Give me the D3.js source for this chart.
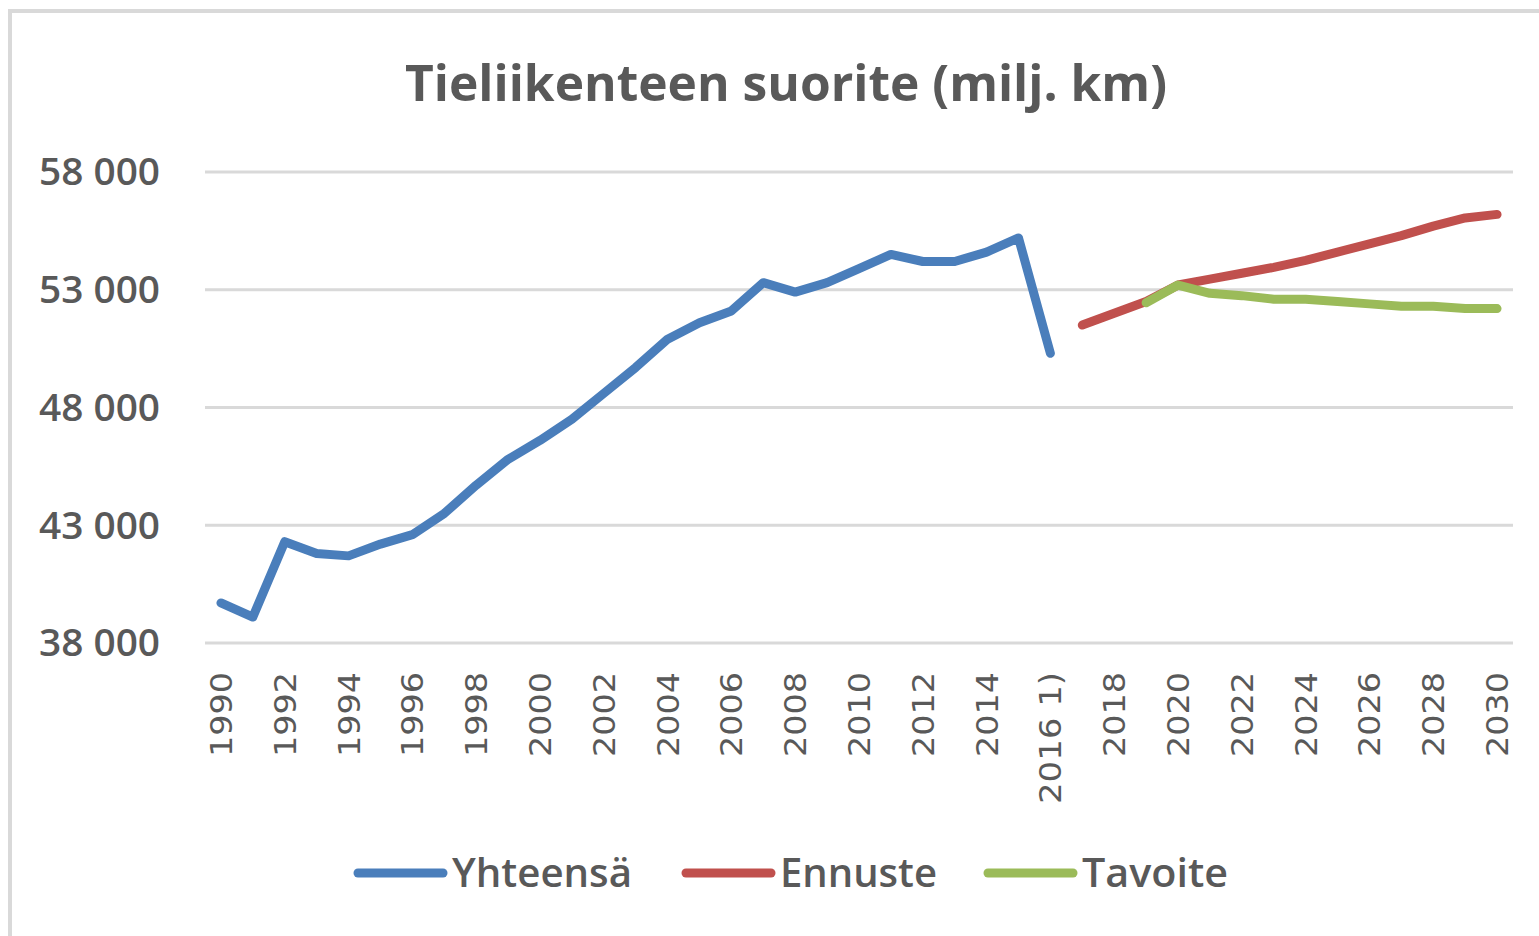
<!DOCTYPE html>
<html>
<head>
<meta charset="utf-8">
<script src="https://cdn.jsdelivr.net/npm/d3@7"></script>
<style>
  html, body { margin: 0; padding: 0; background: #fff; }
  svg { display: block; }
  text { font-family: "Open Sans", "Noto Sans", sans-serif; fill: #595959; }
</style>
</head>
<body>
<div id="chart"></div>
<script>
  const years = d3.range(1990, 2031);
  const yearLabels = years.map((y) => (y === 2016 ? "2016 1)" : String(y)));
  const yTicks = [38000, 43000, 48000, 53000, 58000];

  // Yhteensä 1990..2016
  const totalValues = [
    39700, 39100, 42300, 41800, 41700, 42200, 42600, 43500, 44700, 45800,
    46600, 47500, 48600, 49700, 50900, 51600, 52100, 53300, 52900, 53300,
    53900, 54500, 54200, 54200, 54600, 55200, 50300
  ];
  // Ennuste 2017..2030
  const forecastValues = [
    51500, 52000, 52500, 53200, 53450, 53700, 53950, 54250, 54600, 54950,
    55300, 55700, 56050, 56200
  ];
  // Tavoite 2019..2030
  const targetValues = [
    52450, 53200, 52850, 52750, 52600, 52600, 52500, 52400, 52300, 52300,
    52200, 52200
  ];

  const seriesNames = ["Yhteensä", "Ennuste", "Tavoite"];
  const seriesColors = ["#4a7ebb", "#c0504d", "#9bbb59"];

  const series = [
    totalValues.map((v, i) => ({ year: 1990 + i, value: v })),
    forecastValues.map((v, i) => ({ year: 2017 + i, value: v })),
    targetValues.map((v, i) => ({ year: 2019 + i, value: v }))
  ];

  const width = 1539;
  const height = 936;
  const plot = { left: 205, right: 1513, top: 172, bottom: 643 };

  const svg = d3.select("#chart").append("svg")
    .attr("width", width)
    .attr("height", height);

  // outer border (top + left visible)
  svg.append("path")
    .attr("d", `M10,${height} L10,11 L${width},11`)
    .attr("fill", "none")
    .attr("stroke", "#d9d9d9")
    .attr("stroke-width", 4);

  const x = d3.scaleBand()
    .domain(years)
    .range([plot.left, plot.right])
    .padding(0);

  const y = d3.scaleLinear()
    .domain([38000, 58000])
    .range([plot.bottom, plot.top]);

  const cx = (year) => x(year) + x.bandwidth() / 2;

  // gridlines
  svg.append("g")
    .selectAll("line")
    .data(yTicks)
    .join("line")
    .attr("x1", plot.left)
    .attr("x2", plot.right)
    .attr("y1", (d) => y(d))
    .attr("y2", (d) => y(d))
    .attr("stroke", "#d9d9d9")
    .attr("stroke-width", 3);

  // y labels
  const fmt = (v) => d3.format(",")(v).replace(",", " ");
  svg.append("g")
    .selectAll("text")
    .data(yTicks)
    .join("text")
    .attr("x", 160)
    .attr("y", (d) => y(d))
    .attr("dy", "0.36em")
    .attr("text-anchor", "end")
    .attr("font-size", 37)
    .attr("font-weight", 600)
    .attr("textLength", 121)
    .attr("lengthAdjust", "spacingAndGlyphs")
    .text(fmt);

  // x labels (every second year)
  svg.append("g")
    .selectAll("text")
    .data(years.filter((d, i) => i % 2 === 0))
    .join("text")
    .attr("transform", (d) => `translate(${cx(d) + 11},${672}) rotate(-90)`)
    .attr("text-anchor", "end")
    .style("font-family", "'DejaVu Sans', sans-serif")
    .attr("font-size", 31)
    .text((d) => yearLabels[years.indexOf(d)])
    .each(function (d) {
      const label = yearLabels[years.indexOf(d)];
      d3.select(this).attr("textLength", label.length === 4 ? 85 : 132)
        .attr("lengthAdjust", "spacingAndGlyphs");
    });

  // lines
  const line = d3.line()
    .x((d) => cx(d.year))
    .y((d) => y(d.value));

  svg.append("g")
    .selectAll("path")
    .data(series)
    .join("path")
    .attr("d", line)
    .attr("fill", "none")
    .attr("stroke", (d, i) => seriesColors[i])
    .attr("stroke-width", 9)
    .attr("stroke-linejoin", "round")
    .attr("stroke-linecap", "round");

  // title
  svg.append("text")
    .attr("x", 786)
    .attr("y", 101)
    .attr("text-anchor", "middle")
    .attr("font-size", 50)
    .attr("font-weight", 700)
    .attr("textLength", 762)
    .attr("lengthAdjust", "spacingAndGlyphs")
    .text("Tieliikenteen suorite (milj. km)");

  // legend
  const legendItems = [
    { x: 358, textLength: 180 },
    { x: 686, textLength: 157 },
    { x: 988, textLength: 146 }
  ];
  const legend = svg.append("g")
    .selectAll("g")
    .data(seriesNames)
    .join("g")
    .attr("transform", (d, i) => `translate(${legendItems[i].x},873)`);

  legend.append("line")
    .attr("x1", 0)
    .attr("x2", 85)
    .attr("stroke", (d, i) => seriesColors[i])
    .attr("stroke-width", 9)
    .attr("stroke-linecap", "round");

  legend.append("text")
    .attr("x", 94)
    .attr("dy", "0.36em")
    .attr("font-size", 40)
    .attr("font-weight", 600)
    .attr("textLength", (d, i) => legendItems[i].textLength)
    .attr("lengthAdjust", "spacingAndGlyphs")
    .text((d) => d);
</script>
</body>
</html>
